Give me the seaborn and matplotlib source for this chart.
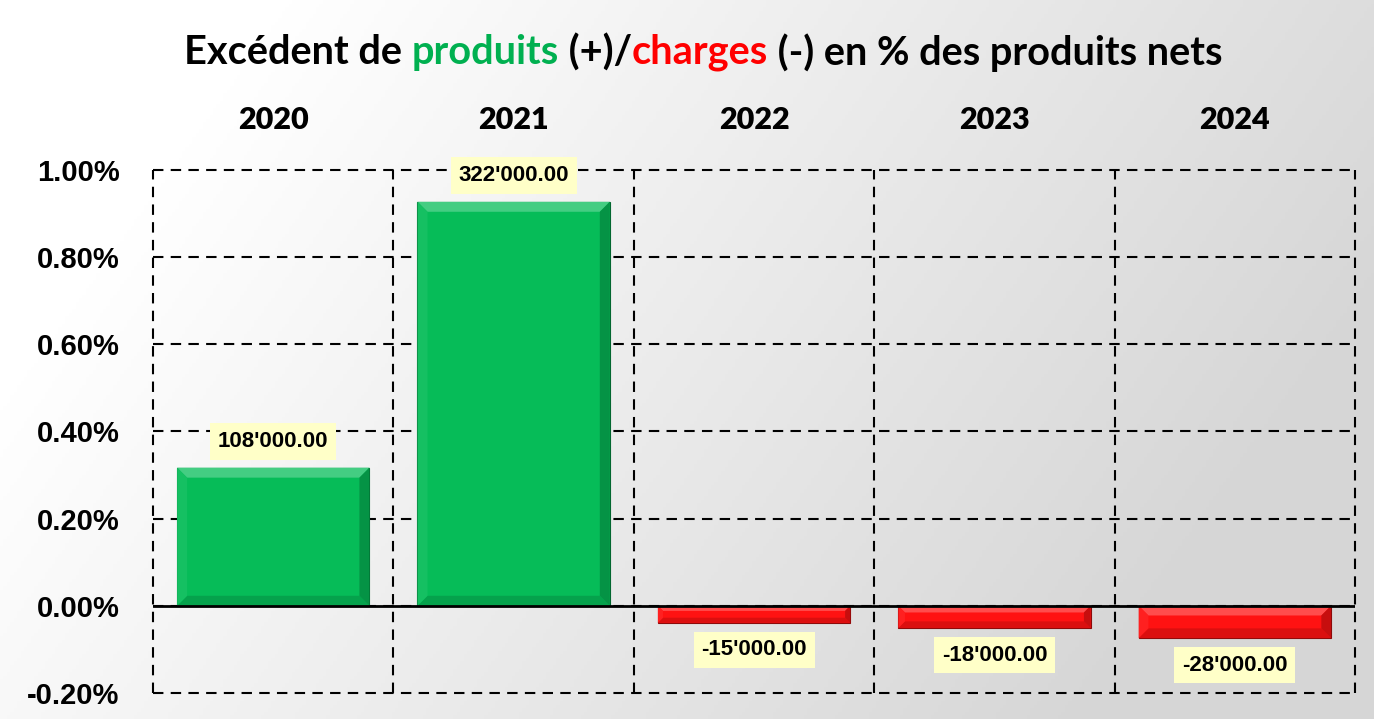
import numpy as np
import matplotlib.pyplot as plt
import matplotlib.colors as mcolors
from matplotlib.patches import Polygon
from matplotlib.ticker import FuncFormatter
import seaborn as sns

# === Data ===
years = ["2020", "2021", "2022", "2023", "2024"]
pct_values = [0.317, 0.927, -0.039, -0.051, -0.074]
amount_labels = ["108'000.00", "322'000.00", "-15'000.00", "-18'000.00", "-28'000.00"]
y_ticks = [-0.2, 0.0, 0.2, 0.4, 0.6, 0.8, 1.0]

title_parts = [
    ("Excédent de ", "black"),
    ("produits", "#00B050"),
    (" (+)/", "black"),
    ("charges", "#FF0000"),
    (" (-) en % des produits nets", "black"),
]

GREEN = "#06BC58"
RED = "#FF1212"
bar_colors = [GREEN if v >= 0 else RED for v in pct_values]

sns.set_theme(style="white")
plt.rcParams["font.family"] = ["Liberation Sans", "DejaVu Sans"]
plt.rcParams["text.color"] = "black"
plt.rcParams["xtick.color"] = "black"
plt.rcParams["ytick.color"] = "black"
TITLE_FONT = ["Lato", "DejaVu Sans"]


def mix(color, other, t):
    c = np.array(mcolors.to_rgb(color))
    o = np.array(mcolors.to_rgb(other))
    return tuple(c * (1 - t) + o * t)


fig = plt.figure(figsize=(13.74, 7.19), dpi=100)

# === Background gradient (white top-left -> light grey right) ===
bg = fig.add_axes([0, 0, 1, 1], zorder=-10)
u, v = np.meshgrid(np.linspace(0, 1, 400), np.linspace(0, 1, 200))
shade = 1.0 - 0.16 * np.clip((0.95 * u + 0.35 * v - 0.2) / 0.9, 0, 1)
bg.imshow(np.dstack([shade] * 3), aspect="auto", extent=(0, 1, 0, 1), origin="upper")
bg.set_axis_off()

# === Main axes ===
ax = fig.add_axes([0.1114, 0.0362, 0.8748, 0.7274])
ax.patch.set_alpha(0)

sns.barplot(x=years, y=pct_values, hue=years, palette=bar_colors, legend=False,
            width=0.8, saturation=1, ax=ax, zorder=3)

ax.set_xlim(-0.5, len(years) - 0.5)
ax.set_ylim(y_ticks[0], y_ticks[-1])
ax.set_yticks(y_ticks)
ax.yaxis.set_major_formatter(FuncFormatter(lambda val, pos: f"{val:.2f}%"))
ax.set_xlabel("")
ax.set_ylabel("")
ax.grid(False)
for s in ax.spines.values():
    s.set_visible(False)

# dashed grid and frame
dash = (0, (5, 3.5))
for yv in y_ticks:
    ax.axhline(yv, color="black", lw=1.5, ls=dash, clip_on=False, zorder=1)
for xb in np.arange(len(years) + 1) - 0.5:
    ax.axvline(xb, color="black", lw=1.5, ls=dash, clip_on=False, zorder=1)
ax.axhline(0, color="black", lw=2, zorder=4)

ax.xaxis.tick_top()
ax.tick_params(axis="x", length=0, pad=26, colors="black")
ax.tick_params(axis="y", length=0, pad=24, colors="black")
for lab in ax.get_xticklabels():
    lab.set_fontfamily(TITLE_FONT)
    lab.set_fontweight("heavy")
    lab.set_fontsize(22)
for lab in ax.get_yticklabels():
    lab.set_fontweight("bold")
    lab.set_fontsize(21)

# === Bevel effect on bars ===
inv = ax.transData.inverted()
for p, col in zip(ax.patches, bar_colors):
    x0, y0 = p.get_x(), p.get_y()
    x1, y1 = x0 + p.get_width(), y0 + p.get_height()
    (L, B), (R, T) = ax.transData.transform([(x0, min(y0, y1)), (x1, max(y0, y1))])
    b = min(10.0, 0.3 * (T - B))
    p.set_edgecolor(mix(col, "black", 0.45))
    p.set_linewidth(0.8)
    faces = [
        ([(L, T), (R, T), (R - b, T - b), (L + b, T - b)], mix(col, "white", 0.25)),
        ([(L, B), (R, B), (R - b, B + b), (L + b, B + b)], mix(col, "black", 0.14)),
        ([(L, B), (L, T), (L + b, T - b), (L + b, B + b)], mix(col, "white", 0.06)),
        ([(R, B), (R, T), (R - b, T - b), (R - b, B + b)], mix(col, "black", 0.22)),
    ]
    for pts, fc in faces:
        ax.add_patch(Polygon(inv.transform(pts), closed=True, fc=fc, ec="none", zorder=3.5))

# === Value labels ===
for i, (val, lab) in enumerate(zip(pct_values, amount_labels)):
    off = 19 if val >= 0 else -19.5
    ax.annotate(lab, (i, val), xytext=(0, off), textcoords="offset points",
                ha="center", va="center", fontsize=16, fontweight="bold", zorder=6,
                color="black",
                bbox=dict(boxstyle="square,pad=0.35", fc="#FFFFC8", ec="none"))

# === Multi-coloured title ===
renderer = fig.canvas.get_renderer()
texts = [fig.text(0, 0.927, s, color=c, fontsize=28.6, fontweight="bold",
                  fontfamily=TITLE_FONT, va="center") for s, c in title_parts]
widths = [t.get_window_extent(renderer).width for t in texts]
x = 0.512 * fig.bbox.width - sum(widths) / 2
for t, w in zip(texts, widths):
    t.set_x(x / fig.bbox.width)
    x += w

fig.savefig("out.png", dpi=100)
